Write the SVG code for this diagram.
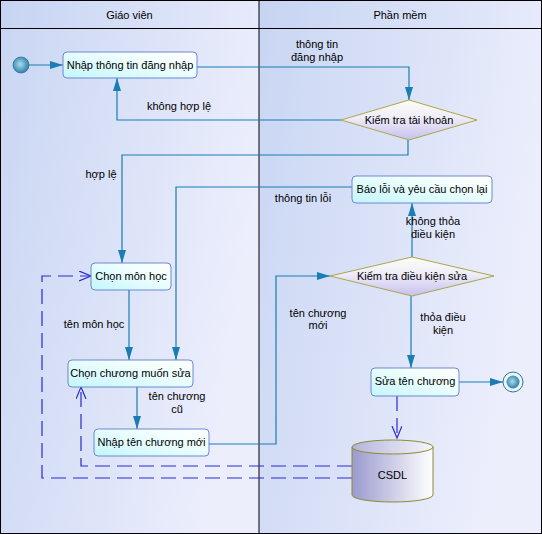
<svg xmlns="http://www.w3.org/2000/svg" width="542" height="534" viewBox="0 0 542 534">
<defs>
<linearGradient id="lane" x1="0" y1="0" x2="1" y2="0.3"><stop offset="0" stop-color="#c9d6f3"/><stop offset="1" stop-color="#eceefc"/></linearGradient>
<linearGradient id="head" x1="0" y1="0" x2="1" y2="0"><stop offset="0" stop-color="#c6d4f3"/><stop offset="1" stop-color="#e6eafb"/></linearGradient>
<linearGradient id="node" x1="0" y1="1" x2="1" y2="0"><stop offset="0" stop-color="#c4f6fb"/><stop offset="0.7" stop-color="#f4ffff"/><stop offset="1" stop-color="#ffffff"/></linearGradient>
<linearGradient id="dia" x1="0" y1="0" x2="0" y2="1"><stop offset="0" stop-color="#fdfdf6"/><stop offset="0.45" stop-color="#eeecf8"/><stop offset="1" stop-color="#c6c0ee"/></linearGradient>
<linearGradient id="cyl" x1="0" y1="0" x2="1" y2="0"><stop offset="0" stop-color="#9a9ace"/><stop offset="1" stop-color="#ffffff"/></linearGradient>
<linearGradient id="cyltop" x1="0" y1="0" x2="1" y2="0"><stop offset="0" stop-color="#b4b4dc"/><stop offset="1" stop-color="#f6f6fc"/></linearGradient>
<radialGradient id="ball" cx="0.45" cy="0.45" r="0.6"><stop offset="0" stop-color="#a8dcea"/><stop offset="1" stop-color="#2578a4"/></radialGradient>
<marker id="ah" markerUnits="userSpaceOnUse" markerWidth="14" markerHeight="10" refX="13" refY="4" orient="auto"><path d="M0,0 L13,4 L0,8 Z" fill="#1a7db4"/></marker>
<marker id="oh" markerUnits="userSpaceOnUse" markerWidth="14" markerHeight="12" refX="12" refY="5" orient="auto"><path d="M0,0 L12,5 L0,10" fill="none" stroke="#2a2ad0" stroke-width="1.2"/></marker>
</defs>
<style>
.n{fill:url(#node);stroke:#6c88d0;stroke-width:1}
.t{font-family:"Liberation Sans",Arial,sans-serif;font-size:11px;fill:#000;text-anchor:middle}
.l{font-family:"Liberation Sans",Arial,sans-serif;font-size:11px;fill:#000;text-anchor:middle}
.c{fill:none;stroke:#1a7db4;stroke-width:1.2}
.d{fill:none;stroke:#2a2ad0;stroke-width:1.2;stroke-dasharray:15 7}
</style>
<g id="lanes">
<rect x="0" y="28" width="259" height="505" fill="url(#lane)"/>
<rect x="259" y="28" width="282" height="505" fill="url(#lane)"/>
<rect x="0" y="0" width="259" height="28" fill="url(#head)"/>
<rect x="259" y="0" width="282" height="28" fill="url(#head)"/>
<rect x="0.5" y="0.5" width="541" height="533" fill="none" stroke="#000"/>
<line x1="0" y1="28.5" x2="542" y2="28.5" stroke="#000"/>
<line x1="259" y1="0" x2="259" y2="534" stroke="#000"/>
<text class="t" x="129.5" y="19">Giáo viên</text>
<text class="t" x="400" y="19">Phần mềm</text>
</g>
<g id="connectors">
<line class="c" x1="29" y1="65" x2="63" y2="65" marker-end="url(#ah)"/>
<polyline class="c" points="197,67 409,67 409,100" marker-end="url(#ah)"/>
<polyline class="c" points="341,120 117,120 117,78" marker-end="url(#ah)"/>
<polyline class="c" points="408,140 408,155 122,155 122,263" marker-end="url(#ah)"/>
<polyline class="c" points="352,187 176,187 176,360" marker-end="url(#ah)"/>
<line class="c" x1="129" y1="290" x2="129" y2="360" marker-end="url(#ah)"/>
<line class="c" x1="137" y1="387" x2="137" y2="429" marker-end="url(#ah)"/>
<polyline class="c" points="209,444 276,444 276,276 330,276" marker-end="url(#ah)"/>
<line class="c" x1="412" y1="257" x2="412" y2="203" marker-end="url(#ah)"/>
<line class="c" x1="411" y1="296" x2="411" y2="368" marker-end="url(#ah)"/>
<line class="c" x1="459" y1="382" x2="503" y2="382" marker-end="url(#ah)"/>
<line class="d" x1="397" y1="396" x2="397" y2="438" marker-end="url(#oh)"/>
<polyline class="d" points="352,466 81,466 81,387" marker-end="url(#oh)"/>
<polyline class="d" points="352,478 42,478 42,276 91,276" marker-end="url(#oh)"/>
<text class="l" x="317" y="48">thông tin</text>
<text class="l" x="317" y="61">đăng nhập</text>
<text class="l" x="179" y="110">không hợp lệ</text>
<text class="l" x="101" y="178">hợp lệ</text>
<text class="l" x="303" y="202">thông tin lỗi</text>
<text class="l" x="433" y="225">không thỏa</text>
<text class="l" x="433" y="238">điều kiện</text>
<text class="l" x="94" y="328">tên môn học</text>
<text class="l" x="318" y="317">tên chương</text>
<text class="l" x="318" y="329">mới</text>
<text class="l" x="443" y="321">thỏa điều</text>
<text class="l" x="443" y="334">kiện</text>
<text class="l" x="177" y="400">tên chương</text>
<text class="l" x="177" y="413">cũ</text>
</g>
<g id="start"><circle cx="21" cy="65" r="8" fill="url(#ball)" stroke="#2a78a0" stroke-width="0.8"/></g>
<g id="n1"><rect class="n" x="63" y="52" width="134" height="26" rx="4"/><text class="t" x="130" y="69">Nhập thông tin đăng nhập</text></g>
<g id="d1"><polygon points="341,120 409,100 477,120 409,140" fill="url(#dia)" stroke="#a8a848"/><text class="t" x="409" y="124">Kiểm tra tài khoản</text></g>
<g id="n2"><rect class="n" x="352" y="176" width="140" height="27" rx="4"/><text class="t" x="422" y="193">Báo lỗi và yêu cầu chọn lại</text></g>
<g id="n3"><rect class="n" x="91" y="263" width="80" height="27" rx="4"/><text class="t" x="131" y="280">Chọn môn học</text></g>
<g id="d2"><polygon points="330,276 412,257 494,276 412,296" fill="url(#dia)" stroke="#a8a848"/><text class="t" x="412" y="280">Kiểm tra điều kiện sửa</text></g>
<g id="n4"><rect class="n" x="68" y="360" width="125" height="27" rx="4"/><text class="t" x="130.5" y="377">Chọn chương muốn sửa</text></g>
<g id="n5"><rect class="n" x="371" y="368" width="88" height="28" rx="4"/><text class="t" x="415" y="385">Sửa tên chương</text></g>
<g id="end"><circle cx="513" cy="382" r="10" fill="#eef4fb" stroke="#2a78a0" stroke-width="1"/><circle cx="513" cy="382" r="6.5" fill="url(#ball)"/></g>
<g id="n6"><rect class="n" x="94" y="429" width="115" height="27" rx="4"/><text class="t" x="151.5" y="446">Nhập tên chương mới</text></g>
<g id="csdl"><path d="M352,447 L352,495 A40.5,7 0 0 0 433,495 L433,447" fill="url(#cyl)" stroke="#8c8c30"/><ellipse cx="392.5" cy="447" rx="40.5" ry="7" fill="url(#cyltop)" stroke="#8c8c30"/><text class="t" x="392.5" y="479">CSDL</text></g>
</svg>
